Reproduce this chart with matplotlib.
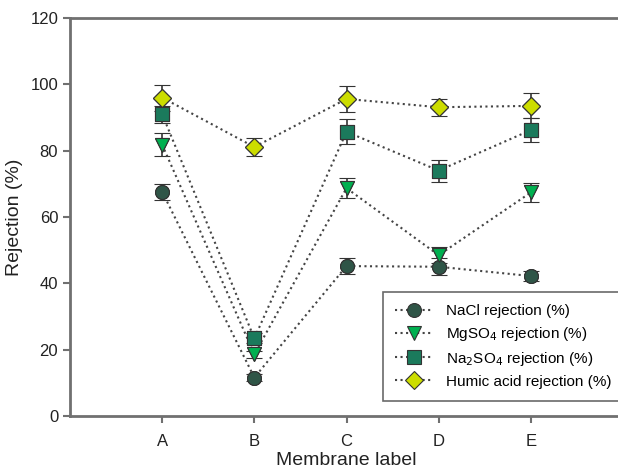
import matplotlib
matplotlib.use("Agg")
import matplotlib.pyplot as plt

plt.rcParams['font.family'] = ['Liberation Sans', 'DejaVu Sans']

labels = ['A', 'B', 'C', 'D', 'E']
x = [1, 2, 3, 4, 5]

nacl = [67.6, 11.6, 45.2, 45.0, 42.2]
nacl_err = [2.5, 1.0, 2.3, 2.5, 1.5]
mgso4 = [81.8, 18.6, 68.7, 48.5, 67.4]
mgso4_err = [3.4, 1.0, 3.0, 2.5, 2.8]
na2so4 = [91.0, 23.4, 85.7, 74.0, 86.2]
na2so4_err = [2.6, 1.5, 3.8, 3.3, 3.5]
humic = [96.0, 81.1, 95.6, 93.1, 93.5]
humic_err = [3.9, 2.8, 3.8, 2.5, 3.8]

series = [
    (nacl, nacl_err, 'o', '#2f5547', 'NaCl rejection (%)'),
    (mgso4, mgso4_err, 'v', '#00b050', 'MgSO$_4$ rejection (%)'),
    (na2so4, na2so4_err, 's', '#1b7a5c', 'Na$_2$SO$_4$ rejection (%)'),
    (humic, humic_err, 'D', '#ccdd00', 'Humic acid rejection (%)'),
]

fig = plt.figure(figsize=(6.18, 4.72), dpi=100)
ax = fig.add_axes([70 / 618, 1 - 416 / 472, 553 / 618, 398 / 472])

for y, err, m, c, lab in series:
    ms = 9 if m == 'D' else 10
    ax.errorbar(x, y, yerr=err, fmt=m, color=c, ms=ms, mec='#333333', mew=0.8,
                ecolor='#333333', elinewidth=1.2, capsize=6, capthick=1.2, zorder=3,
                ls='none')
    ax.plot(x, y, ls=':', color='#444444', lw=1.5, marker=m, ms=ms, mfc=c,
            mec='#333333', mew=0.8, label=lab, zorder=4)

ax.set_xlim(0, 6)
ax.set_ylim(0, 120)
ax.set_xticks(x)
ax.set_xticklabels(labels)
ax.set_yticks(range(0, 121, 20))
ax.tick_params(labelsize=12, colors='#222222', length=5, width=1.5)
ax.tick_params(axis='both', color='#707070')
ax.tick_params(axis='x', pad=8)
for s in ['left', 'bottom', 'top']:
    ax.spines[s].set_color('#707070')
    ax.spines[s].set_linewidth(2)
ax.spines['right'].set_visible(False)

ax.set_xlabel('Membrane label', fontsize=14, color='#222222', labelpad=2)
ax.set_ylabel('Rejection (%)', fontsize=14, color='#222222', labelpad=5)

leg = ax.legend(loc='upper left', bbox_to_anchor=(0.566, 0.312), borderaxespad=0,
                fontsize=11, frameon=True, fancybox=False, handlelength=2.5,
                labelspacing=0.45, borderpad=0.8)
leg.get_frame().set_edgecolor('#444444')
leg.get_frame().set_linewidth(1.2)

fig.savefig('out.png', dpi=100)
